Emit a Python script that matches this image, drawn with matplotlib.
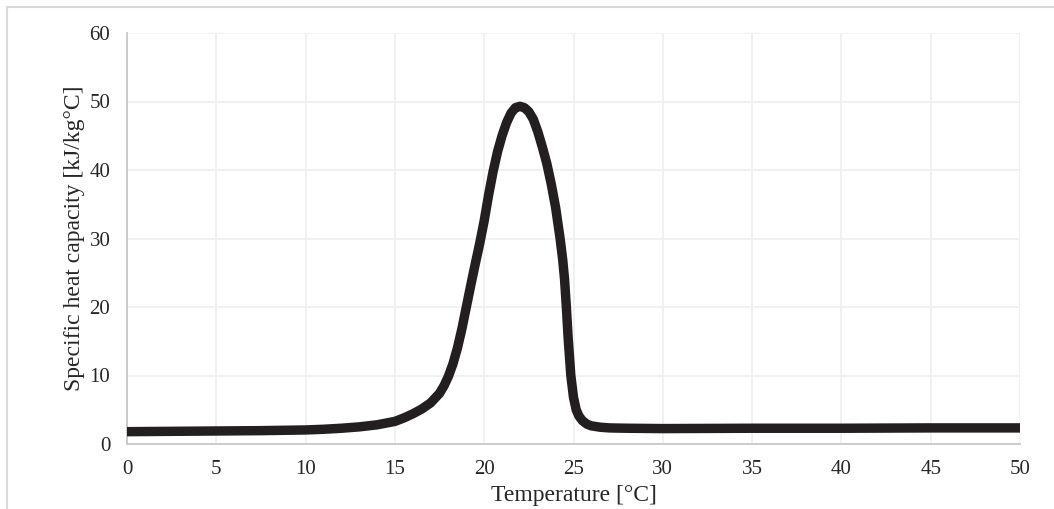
import matplotlib.pyplot as plt
from matplotlib.lines import Line2D

# values
temperature = [0, 2.5, 5, 7.5, 10, 11, 12, 13, 14, 15, 15.5, 16, 16.5, 17, 17.5,
               17.75, 18, 18.25, 18.5, 18.75, 19, 19.25, 19.5, 19.75, 20, 20.25,
               20.5, 20.75, 21, 21.25, 21.5, 21.75, 22, 22.25, 22.5, 22.75, 23,
               23.25, 23.5, 23.75, 24, 24.25, 24.4, 24.5, 24.6, 24.7, 24.85, 25.0,
               25.15, 25.3, 25.5, 25.75, 26, 26.5, 27, 28, 30, 35, 40, 45, 50]
heat_capacity = [1.8, 1.85, 1.9, 1.95, 2.05, 2.15, 2.3, 2.5, 2.8, 3.3, 3.8, 4.4,
                 5.1, 6.0, 7.4, 8.5, 9.9, 11.7, 14.0, 16.8, 20.0, 23.2, 26.3,
                 29.3, 32.6, 36.4, 39.8, 42.7, 45.0, 46.9, 48.3, 49.1, 49.3, 49.1,
                 48.5, 47.4, 45.6, 43.4, 41.0, 38.0, 34.5, 30.0, 26.8, 24.0, 20.0,
                 15.5, 10.0, 6.8, 5.0, 4.1, 3.4, 2.9, 2.65, 2.45, 2.35, 2.3, 2.25,
                 2.3, 2.3, 2.35, 2.35]
x_ticks = list(range(0, 51, 5))
y_ticks = list(range(0, 61, 10))

plt.rcParams['font.family'] = ['Liberation Serif', 'DejaVu Serif']

fig = plt.figure(figsize=(10.54, 5.09), dpi=100)
ax = fig.add_axes([127 / 1054, 65 / 509, 893 / 1054, 411 / 509])

ax.plot(temperature, heat_capacity, color='#231f20', linewidth=6.8,
        solid_capstyle='round', solid_joinstyle='round', zorder=3)

ax.set_xlim(0, 50)
ax.set_ylim(0, 60)
ax.set_xticks(x_ticks)
ax.set_yticks(y_ticks)
ax.tick_params(length=0, labelsize=15, colors='#262626')
ax.tick_params(axis='x', pad=11.5)
ax.tick_params(axis='y', pad=12)
ax.grid(True, color='#efefef', linewidth=1.2, zorder=0)
ax.set_axisbelow(True)
for side in ['top', 'right']:
    ax.spines[side].set_visible(False)
for side in ['left', 'bottom']:
    ax.spines[side].set_color('#c8c8c8')
    ax.spines[side].set_linewidth(1.3)

ax.set_xlabel('Temperature [°C]', fontsize=17, color='#262626', labelpad=4)
ax.set_ylabel('Specific heat capacity [kJ/kg°C]', fontsize=17, color='#262626',
              labelpad=3)

# outer chart frame (only top and left edges are inside the picture)
fig.add_artist(Line2D([7 / 1054, 7 / 1054], [0, 1 - 7 / 509],
                      transform=fig.transFigure, color='#d9d9d9', linewidth=1.5))
fig.add_artist(Line2D([7 / 1054, 1], [1 - 7 / 509, 1 - 7 / 509],
                      transform=fig.transFigure, color='#d9d9d9', linewidth=1.5))

fig.savefig('out.png', dpi=100)
plt.close(fig)
